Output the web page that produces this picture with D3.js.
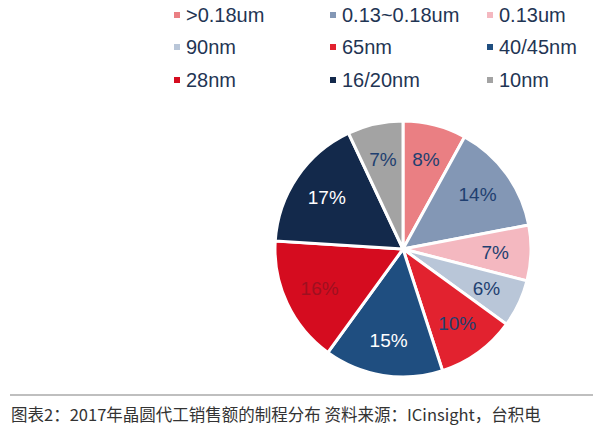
<!DOCTYPE html>
<html><head><meta charset="utf-8">
<script src="https://cdn.jsdelivr.net/npm/d3@7"></script>
<style>body{margin:0;background:#fff}</style>
</head><body><div id="chart"></div>
<script>
const categories = [">0.18um", "0.13~0.18um", "0.13um", "90nm", "65nm", "40/45nm", "28nm", "16/20nm", "10nm"];
const values = [8, 14, 7, 6, 10, 15, 16, 17, 7];
const colors = ["#ea7f83", "#8397b5", "#f4b8c0", "#b9c6d8", "#e2222f", "#1f4e80", "#d50c1f", "#13294b", "#a3a3a3"];
const labelColors = ["#1f3f70", "#1f3f70", "#1f3f70", "#1f3f70", "#1f3f70", "#fff", "#9e1020", "#fff", "#1f3f70"];

let width = 593, height = 430;
let svg = d3.select("#chart").append("svg").attr("width", width).attr("height", height);

// legend
let legendCols = [177, 333, 490], legendRows = [15, 47, 80];
categories.forEach((c, i) => {
  let x = legendCols[i % 3], y = legendRows[Math.floor(i / 3)];
  svg.append("rect").attr("x", x - 3).attr("y", y - 3).attr("width", 6).attr("height", 6).attr("fill", colors[i]);
  svg.append("text").attr("x", x + 9).attr("y", y + 7).attr("font-family", "Liberation Sans, Arial")
    .attr("font-size", 20).attr("fill", "#1f3554").text(c);
});

// pie
let cx = 403, cy = 249, r = 128;
let pie = d3.pie().sort(null).value(d => d)(values);
let arc = d3.arc().innerRadius(0).outerRadius(r);
let labelArc = d3.arc().innerRadius(r * 0.72).outerRadius(r * 0.72);
let g = svg.append("g").attr("transform", `translate(${cx},${cy})`);
g.selectAll("path").data(pie).enter().append("path")
  .attr("d", arc).attr("fill", (d, i) => colors[i]).attr("stroke", "#fff").attr("stroke-width", 3);
g.selectAll("text").data(pie).enter().append("text")
  .attr("transform", d => `translate(${labelArc.centroid(d)})`)
  .attr("text-anchor", "middle").attr("dy", "0.35em")
  .attr("font-family", "Liberation Sans, Arial").attr("font-size", 19)
  .attr("fill", (d, i) => labelColors[i]).text(d => d.data + "%");

// caption
svg.append("line").attr("x1", 10).attr("x2", 593).attr("y1", 395).attr("y2", 395)
  .attr("stroke", "#aaa").attr("stroke-width", 1.5);
svg.append("text").attr("x", 11).attr("y", 421).attr("font-family", "Noto Sans CJK SC")
  .attr("font-size", 16.5).attr("fill", "#333")
  .text("图表2：2017年晶圆代工销售额的制程分布  资料来源：ICinsight，台积电");
</script></body></html>
